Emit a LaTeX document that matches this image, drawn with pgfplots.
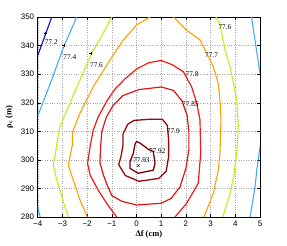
\documentclass[border=0pt]{standalone}
\usepackage{fontspec}
\setmainfont{Liberation Serif}
\setsansfont{Liberation Sans}
\usepackage{pgfplots}
\pgfplotsset{compat=1.18}
\definecolor{cA}{RGB}{10,10,205}
\definecolor{cB}{RGB}{70,170,250}
\definecolor{cC}{RGB}{180,245,20}
\definecolor{cD}{RGB}{255,160,0}
\definecolor{cE}{RGB}{245,25,20}
\definecolor{cF}{RGB}{225,20,20}
\definecolor{cG}{RGB}{150,10,10}
\definecolor{cH}{RGB}{125,0,0}
\tikzset{lbl/.style={inner sep=0pt, anchor=center, font=\fontsize{7.3}{8}\selectfont, text=black}}
\begin{document}
\begin{tikzpicture}
\path[use as bounding box] (-37.7bp,-29bp) rectangle (249.3bp,217bp);
\begin{axis}[
  scale only axis, width=222.3bp, height=200bp,
  xmin=-4, xmax=5, ymin=280, ymax=350,
  xtick={-4,-3,-2,-1,0,1,2,3,4,5},
  xticklabels={−4,−3,−2,−1,0,1,2,3,4,5},
  ytick={280,290,300,310,320,330,340,350},
  /pgf/number format/assume math mode=true,
  ticklabel style={font=\sffamily\fontsize{8}{9}\selectfont},
  grid=major, grid style={dotted, black!35, line width=0.35pt},
  tick align=inside, major tick length=3bp,
  tick style={black, line width=0.4pt},
  axis line style={black, line width=0.5pt},
  xlabel={\textbf{Δf (cm)}},
  ylabel={\textbf{ρ\textsubscript{c} (m)}},
  label style={font=\fontsize{8.5}{10}\selectfont},
  xlabel style={at={(axis description cs:0.5,-0.0865)}, anchor=center},
  ylabel style={at={(axis description cs:-0.128,0.5)}, anchor=center},
  every axis plot/.append style={line width=1.1pt, mark=none},
]
% 77.2
\addplot[cA] coordinates {(-4,336.5) (-3.43,350)};
% 77.4
\addplot[cB] coordinates {(-4,315.3) (-3.5,326.5) (-2.95,339.5) (-2.42,350)};
\addplot[cB] coordinates {(-4,283.6) (-3.9,280)};
\addplot[cB] coordinates {(4.66,350) (4.83,340) (5,330.3)};
\addplot[cB] coordinates {(5,304.6) (4.87,296.4) (4.8,290.6) (4.6,280)};
% 77.6
\addplot[cC] coordinates {(-1.0,350) (-1.4,343.5) (-1.81,337.3) (-2.29,328) (-2.76,318.6) (-3.1,311.6) (-3.22,306) (-3.26,303.4) (-3.37,298.2) (-3.23,293) (-3.1,289.4) (-2.95,285) (-2.76,280)};
\addplot[cC] coordinates {(3.22,350) (3.38,347.2) (3.6,338) (3.79,332.6) (4.06,320.9) (4.12,312) (4.1,308) (4.05,302) (3.95,295) (3.79,288.3) (3.49,280)};
% 77.7
\addplot[cD] coordinates {(0.55,350) (0.0,347.2) (-0.53,342) (-1.07,335) (-1.75,325.6) (-2.29,316.3) (-2.58,310) (-2.6,305) (-2.76,298.2) (-2.63,294.7) (-2.42,289.4) (-2.29,286) (-1.99,280)};
\addplot[cD] coordinates {(1.49,350) (2.03,345.4) (2.57,342) (2.84,337.3) (3.11,332.6) (3.31,326.8) (3.38,320.9) (3.42,314) (3.38,302.3) (3.31,296.4) (3.11,288.3) (2.73,280)};
% 77.8
\addplot[cE, line width=1.2pt] coordinates {(-0.8,280) (-1.21,284.8) (-1.55,289.4) (-1.88,294.7) (-1.98,298.8) (-1.88,304.6) (-1.75,310.5) (-1.55,315) (-1.21,320.5) (-0.85,325) (-0.47,328.3) (0.0,331.8) (0.5,334) (1.0,334.8) (1.45,333.3) (1.9,330.8) (2.23,325.6) (2.44,319.8) (2.57,314) (2.6,302.3) (2.5,291.8) (2.03,284.8) (1.56,280)};
% 77.85
\addplot[cF, line width=1.2pt] coordinates {(-1.48,299) (-1.45,305) (-1.4,310) (-1.22,315) (-0.95,319) (-0.55,322.5) (0.1,324.6) (1.0,325.5) (1.5,324.3) (1.85,320.5) (2.05,315.5) (2.12,310) (2.12,303.5) (2.0,297) (1.76,290.5) (1.4,286.5) (1.0,284.8) (0.0,284.2) (-0.6,285.5) (-1.0,287.5) (-1.2,291.5) (-1.34,294.7) (-1.48,299)};
% 77.9
\addplot[cG, line width=1.3pt] coordinates {(-0.55,309) (-0.35,312.5) (-0.1,313.8) (0.5,314.2) (1.05,314.2) (1.25,312) (1.3,307) (1.3,301) (1.2,296) (0.9,293.5) (0.1,292.5) (-0.45,294.5) (-0.72,298.3) (-0.62,301.5) (-0.55,305) (-0.55,309)};
% 77.92
\addplot[cH, line width=1.3pt] coordinates {(0.0,306.4) (0.14,305.9) (0.48,303.7) (0.68,302.9) (0.75,298.8) (0.68,296.4) (0.07,295.3) (-0.26,297.0) (-0.26,299.4) (-0.13,302.3) (-0.06,305.5) (0.0,306.4)};
% markers
\addplot[only marks, mark=+, mark size=1.4bp, black, line width=0.3pt] coordinates {(-3.68,344.3) (-2.94,340) (-1.85,337.3)};
\addplot[only marks, mark=x, mark size=1.8bp, black, line width=0.4pt] coordinates {(0.07,298.0)};
% labels
\node[lbl] at (axis cs:-3.45,341.2) {77.2};
\node[lbl] at (axis cs:-2.7,335.8) {77.4};
\node[lbl] at (axis cs:-1.62,333.2) {77.6};
\node[lbl] at (axis cs:3.58,346.6) {77.6};
\node[lbl] at (axis cs:3.04,336.7) {77.7};
\node[lbl] at (axis cs:2.25,330.0) {77.8};
\node[lbl] at (axis cs:2.18,319.4) {77.85};
\node[lbl] at (axis cs:1.49,309.9) {77.9};
\node[lbl] at (axis cs:0.84,302.9) {77.92};
\node[lbl] at (axis cs:0.2,299.8) {77.93};
\end{axis}
\end{tikzpicture}
\end{document}
